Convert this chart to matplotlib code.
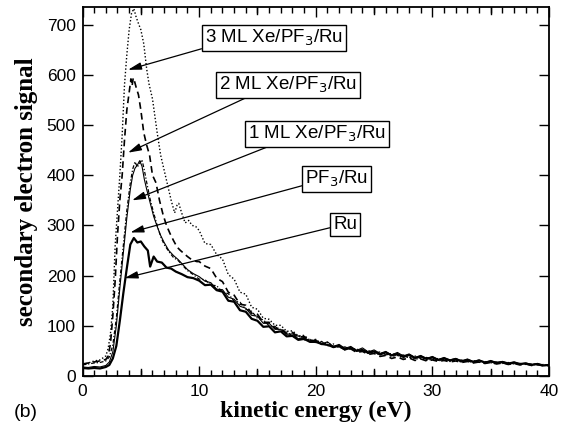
import numpy as np
import matplotlib.pyplot as plt
from matplotlib.ticker import MultipleLocator

# shared energy grids for the smooth part of the spectra
mid_energy = list(np.arange(10, 20, 0.5))
tail_energy = list(np.arange(20, 40.01, 0.5))

# clean Ru
ru_energy = [0, 0.5, 1, 1.5, 2, 2.3, 2.6, 2.9, 3.2, 3.5, 3.8, 4.1, 4.4, 4.7, 5.0,
             5.3, 5.6, 5.8, 6.1, 6.4, 6.8, 7.2, 7.6, 8.0, 8.5, 9.0, 9.5] + mid_energy + tail_energy
ru_signal = [16, 15, 16, 15, 18, 22, 35, 60, 110, 165, 215, 262, 275, 266, 268,
             258, 250, 218, 238, 228, 226, 216, 214, 208, 203, 197, 195,
             190, 181, 182, 171, 168, 150, 148, 131, 128, 114, 110, 98, 99, 87, 89, 79, 80, 72, 74, 68,
             68, 64, 62, 58, 60, 53, 56, 50, 52, 46, 49, 43, 47, 41, 44, 38, 42, 36, 39, 34,
             37, 32, 35, 31, 34, 29, 32, 28, 31, 27, 29, 26, 28, 25, 27, 24, 25, 22, 24, 21, 22]

# PF3 / Ru
pf3_energy = [0, 0.5, 1, 1.5, 2, 2.3, 2.6, 2.9, 3.2, 3.5, 3.8, 4.1, 4.3, 4.5, 4.7,
              4.9, 5.1, 5.3, 5.5, 5.8, 6.1, 6.4, 6.7, 7.0, 7.4, 7.8, 8.2, 8.6, 9.0, 9.5] + mid_energy + tail_energy
pf3_signal = [18, 17, 19, 18, 21, 28, 48, 100, 175, 245, 315, 372, 400, 414, 420,
              429, 418, 392, 372, 345, 318, 298, 280, 266, 250, 240, 232, 222, 212, 204,
              198, 189, 186, 173, 172, 157, 153, 139, 135, 121, 119, 105, 105, 93, 93, 83, 84, 74, 77, 69,
              72, 64, 68, 59, 63, 55, 59, 51, 56, 48, 52, 45, 49, 42, 47, 40, 44, 37, 41, 35,
              39, 33, 37, 32, 35, 30, 34, 29, 32, 27, 31, 27, 29, 25, 28, 24, 26, 23, 25, 21, 22]

# 1 ML Xe on PF3 / Ru
ml1_energy = list(pf3_energy)
ml1_signal = [22, 24, 26, 27, 30, 38, 62, 115, 190, 260, 330, 385, 412, 427, 416,
              424, 431, 410, 386, 352, 325, 300, 278, 262, 248, 236, 230, 220, 210, 202,
              193, 192, 181, 180, 167, 164, 149, 147, 133, 129, 115, 112, 100, 99, 89, 89, 79, 80, 72, 73,
              66, 69, 60, 64, 56, 58, 53, 54, 49, 51, 45, 48, 42, 45, 40, 42, 37, 40, 35, 37,
              33, 35, 31, 33, 30, 32, 28, 31, 27, 29, 26, 28, 25, 27, 24, 25, 23, 24, 22, 23, 21]

# 2 ML Xe on PF3 / Ru
ml2_energy = [0, 0.5, 1, 1.5, 2, 2.2, 2.4, 2.6, 2.8, 3.0, 3.2, 3.4, 3.6, 3.8, 4.0,
              4.15, 4.25, 4.35, 4.45, 4.6, 4.8, 5.0, 5.25, 5.5, 5.75, 6.0, 6.3, 6.6, 6.9, 7.2,
              7.5, 7.8, 8.1, 8.4, 8.7, 9.0, 9.4, 9.8] + mid_energy + tail_energy
ml2_signal = [24, 26, 28, 30, 33, 40, 65, 120, 190, 280, 350, 400, 470, 530, 565,
              592, 578, 594, 588, 575, 560, 530, 485, 460, 440, 400, 385, 350, 322, 300,
              284, 270, 257, 250, 244, 238, 231, 228,
              228, 219, 214, 195, 188, 167, 161, 143, 141, 125, 123, 107, 107, 95, 95, 85, 87, 77, 79, 70,
              71, 63, 65, 57, 59, 52, 54, 47, 49, 43, 45, 39, 41, 35, 38, 33, 36, 31, 34, 30,
              32, 29, 31, 28, 30, 27, 29, 26, 28, 25, 27, 24, 26, 23, 25, 22, 24, 21, 23, 20, 21]

# 3 ML Xe on PF3 / Ru
ml3_energy = [0, 0.5, 1, 1.5, 2, 2.2, 2.4, 2.6, 2.8, 3.0, 3.2, 3.4, 3.6, 3.8, 4.0,
              4.2, 4.4, 4.6, 4.8, 5.0, 5.25, 5.5, 5.7, 6.0, 6.4, 6.7, 7.0, 7.3, 7.6, 7.9,
              8.1, 8.25, 8.5, 8.8, 9.1, 9.4, 9.7] + mid_energy + tail_energy
ml3_signal = [22, 26, 30, 32, 40, 55, 85, 140, 260, 330, 400, 480, 580, 640, 690,
              722, 732, 715, 702, 690, 662, 612, 582, 552, 485, 440, 410, 380, 350, 325,
              340, 344, 325, 305, 310, 300, 298,
              290, 264, 262, 242, 233, 202, 193, 167, 163, 137, 133, 115, 113, 101, 101, 89, 90, 80, 81, 71,
              73, 64, 67, 59, 61, 54, 57, 50, 52, 45, 48, 42, 45, 39, 41, 36, 38, 33, 36, 31,
              34, 30, 33, 29, 31, 28, 30, 27, 29, 26, 28, 25, 27, 24, 26, 23, 25, 22, 24, 21, 22]

labels = ['3 ML Xe/PF$_3$/Ru', '2 ML Xe/PF$_3$/Ru', '1 ML Xe/PF$_3$/Ru', 'PF$_3$/Ru', 'Ru']
arrow_tips = [(3.9, 610), (3.9, 445), (4.25, 350), (4.1, 286), (3.6, 195)]
label_pos = [(16.4, 674), (17.6, 580), (20.1, 483), (21.8, 393), (22.5, 302)]
arrow_rel = [(0.0, 0.0), (0.24, 0.0), (0.2, 0.0), (0.0, 0.2), (0.0, 0.35)]

fig = plt.figure(figsize=(5.69, 4.29), dpi=100)
ax = fig.add_axes([0.145, 0.1235, 0.820, 0.860])

ax.plot(ml3_energy, ml3_signal, color='black', lw=1.0, dashes=(1, 1.5))
ax.plot(ml2_energy, ml2_signal, color='black', lw=1.2, dashes=(4, 2.5))
ax.plot(ml1_energy, ml1_signal, color='black', lw=0.9, dashes=(3, 1.5, 1, 1.5))
ax.plot(pf3_energy, pf3_signal, color='black', lw=0.8)
ax.plot(ru_energy, ru_signal, color='black', lw=1.6)

for text, tip, pos, rel in zip(labels, arrow_tips, label_pos, arrow_rel):
    ax.annotate(text, xy=tip, xytext=pos, ha='center', va='center',
                fontsize=13.5, family='Liberation Sans',
                bbox=dict(boxstyle='square,pad=0.15', fc='white', ec='black', lw=1),
                arrowprops=dict(arrowstyle='-|>,head_length=0.8,head_width=0.22',
                                color='black', lw=0.9, mutation_scale=10,
                                shrinkA=0, shrinkB=0, relpos=rel))

ax.set_xlim(0, 40)
ax.set_ylim(0, 735)
ax.xaxis.set_major_locator(MultipleLocator(10))
ax.xaxis.set_minor_locator(MultipleLocator(1))
ax.yaxis.set_major_locator(MultipleLocator(100))
ax.tick_params(which='both', direction='in', top=True, right=True, width=1)
ax.tick_params(which='major', length=7)
ax.tick_params(which='minor', length=4)
ax.tick_params(axis='x', which='major', pad=6)
ax.tick_params(axis='y', which='major', pad=5)
for lab in ax.get_xticklabels() + ax.get_yticklabels():
    lab.set_family('Liberation Sans')
    lab.set_fontsize(12.5)
for sp in ax.spines.values():
    sp.set_linewidth(1.3)

# extra major ticks at the half decades on the energy axis
for e in range(5, 40, 10):
    ax.plot([e, e], [0, 14], color='black', lw=1)
    ax.plot([e, e], [735 - 14, 735], color='black', lw=1)

ax.set_xlabel('kinetic energy (eV)', family='Liberation Serif', weight='bold', fontsize=17, labelpad=1)
ax.set_ylabel('secondary electron signal', family='Liberation Serif', weight='bold', fontsize=18, labelpad=6)
fig.text(0.025, 0.028, '(b)', family='Liberation Sans', fontsize=14)

fig.savefig('out.png', dpi=100)
